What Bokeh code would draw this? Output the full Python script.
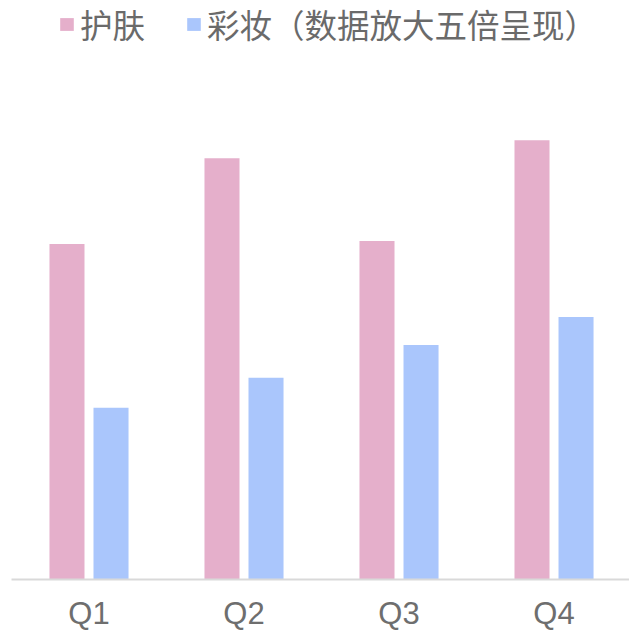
from bokeh.plotting import figure
from bokeh.models import ColumnDataSource, Range1d, Legend, LegendItem, FixedTicker
from bokeh.transform import dodge
from bokeh.embed import file_html
from bokeh.resources import INLINE

quarters = ["Q1", "Q2", "Q3", "Q4"]
skincare = [33.6, 42.2, 33.9, 44.0]
makeup_x5 = [17.2, 20.2, 23.5, 26.3]
series_names = ["护肤", "彩妆（数据放大五倍呈现）"]
colors = ["#e5afcb", "#aac6fc"]

src = ColumnDataSource(dict(x=list(range(len(quarters))), a=skincare, b=makeup_x5))

p = figure(width=629, height=633, output_backend="svg", toolbar_location=None,
           x_range=Range1d(-0.5, 3.487), y_range=Range1d(0, 58.0),
           min_border_left=11, min_border_right=0, min_border_top=0, min_border_bottom=53)

r1 = p.vbar(x=dodge("x", -0.142, range=p.x_range), top="a", width=0.226, source=src,
            color=colors[0], line_color=None)
r2 = p.vbar(x=dodge("x", 0.142, range=p.x_range), top="b", width=0.226, source=src,
            color=colors[1], line_color=None)

p.xaxis.ticker = FixedTicker(ticks=list(range(len(quarters))))
p.xaxis.major_label_overrides = {i: q for i, q in enumerate(quarters)}
p.xaxis.major_label_text_font = "Liberation Sans"
p.xaxis.major_label_text_font_size = "31px"
p.xaxis.major_label_text_color = "#6e6e6e"
p.xaxis.major_label_standoff = 10
p.xaxis.axis_line_color = "#d9d9d9"
p.xaxis.axis_line_width = 2
p.xaxis.major_tick_line_color = None
p.xaxis.minor_tick_line_color = None
p.yaxis.visible = False
p.xgrid.visible = False
p.ygrid.visible = False
p.outline_line_color = None

legend = Legend(items=[LegendItem(label=series_names[0], renderers=[r1]),
                       LegendItem(label=series_names[1], renderers=[r2])],
                orientation="horizontal", location=(47, 532),
                label_text_font="Noto Sans CJK SC", label_text_font_size="32.5px",
                label_text_color="#6a6a6a", glyph_width=17, glyph_height=16,
                label_standoff=5, spacing=40, padding=0, margin=0,
                background_fill_alpha=0, border_line_color=None)
p.add_layout(legend)

open("out.html", "w").write(file_html(p, INLINE))
